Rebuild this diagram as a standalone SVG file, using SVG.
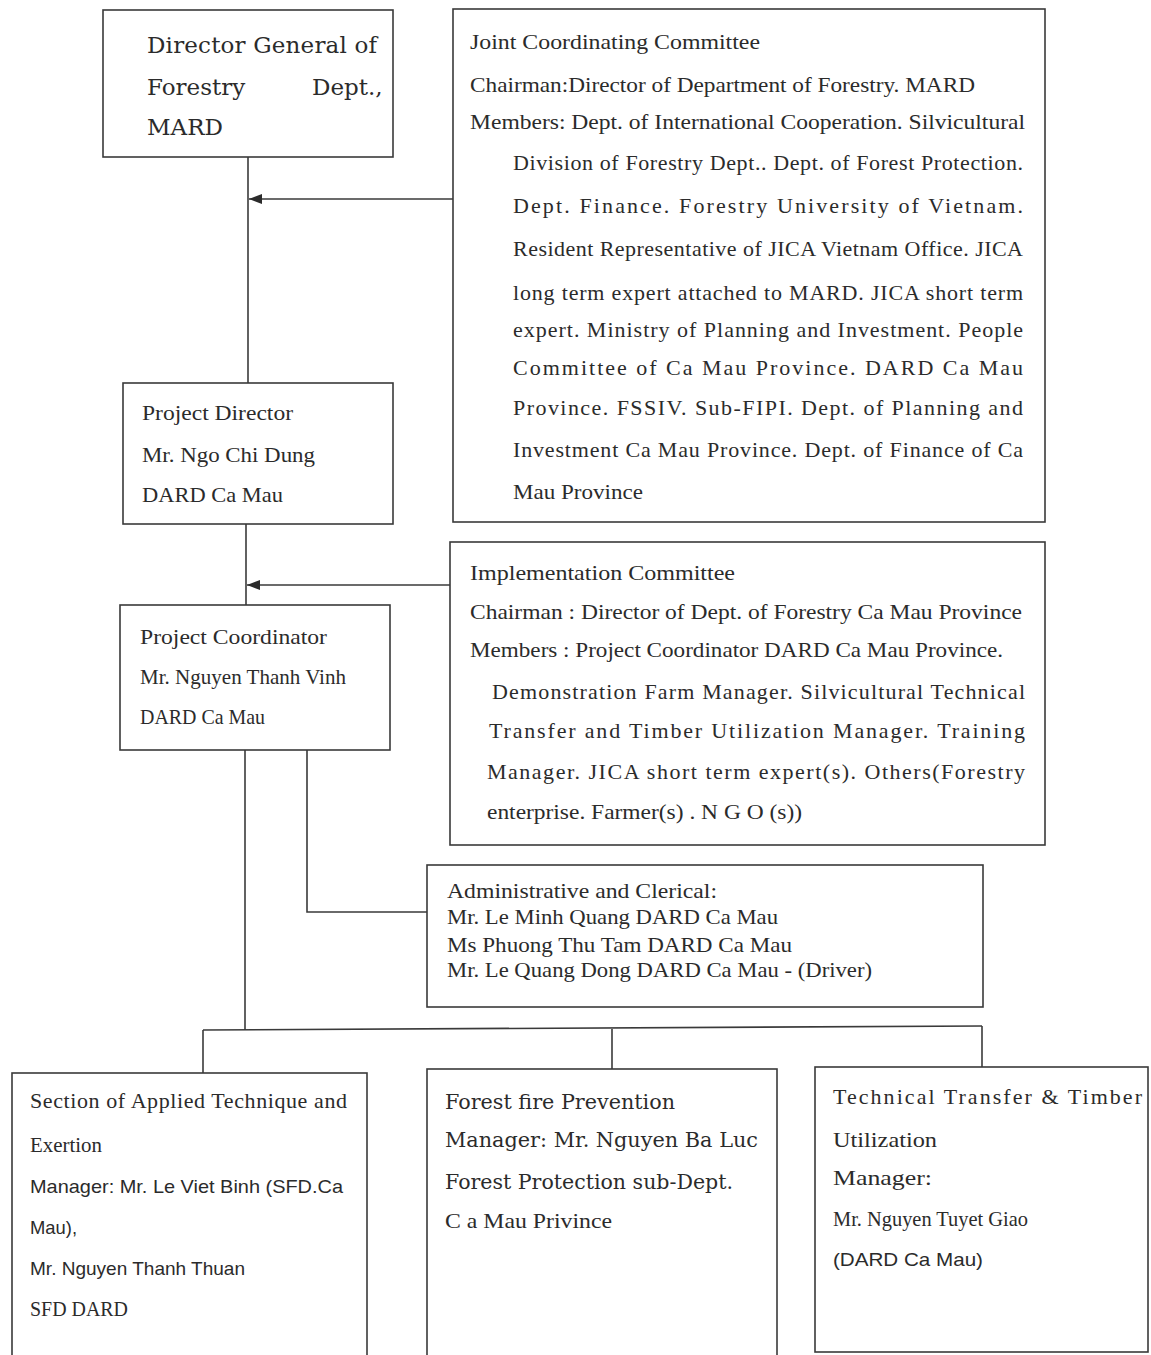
<svg xmlns="http://www.w3.org/2000/svg" width="1151" height="1355" viewBox="0 0 1151 1355">
<style>
.box{fill:#fff;stroke:#3a3a3a;stroke-width:1.6}
.conn{fill:none;stroke:#3a3a3a;stroke-width:1.6}
.t{font-family:"Liberation Serif",serif;font-size:22px;fill:#2b2b2b}
.s{font-family:"Liberation Sans",sans-serif;font-size:19px;fill:#2b2b2b}
.d{font-family:"DejaVu Serif",serif;font-size:23px;fill:#2b2b2b}
.d2{font-family:"DejaVu Serif",serif;font-size:20px;fill:#2b2b2b}
</style>
<defs>
<marker id="arr" markerUnits="userSpaceOnUse" markerWidth="14" markerHeight="10" refX="13" refY="5" orient="auto">
<path d="M0,0 L13,5 L0,10 z" fill="#2b2b2b"/>
</marker>
</defs>
<rect width="1151" height="1355" fill="#fff"/>
<g id="connectors">
<path class="conn" d="M248,157 V383"/>
<path class="conn" d="M453,199 H249" marker-end="url(#arr)"/>
<path class="conn" d="M246,524 V605"/>
<path class="conn" d="M450,585 H247" marker-end="url(#arr)"/>
<path class="conn" d="M245,750 V1030"/>
<path class="conn" d="M307,750 V912 H427"/>
<path class="conn" d="M203,1030 L982,1026"/>
<path class="conn" d="M203,1030 V1073"/>
<path class="conn" d="M612,1029 V1069"/>
<path class="conn" d="M982,1026 V1067"/>
</g>
<g id="dg">
<rect class="box" x="103" y="10" width="290" height="147"/>
<text class="d" x="147" y="53" textLength="230" lengthAdjust="spacing">Director General of</text>
<text class="d" y="95"><tspan x="147">Forestry </tspan><tspan x="312">Dept.,</tspan></text>
<text class="d" x="147" y="135">MARD</text>
</g>
<g id="jcc">
<rect class="box" x="453" y="9" width="592" height="513"/>
<text class="t" x="470" y="49" textLength="290" lengthAdjust="spacingAndGlyphs">Joint Coordinating Committee</text>
<text class="t" x="470" y="92" textLength="505" lengthAdjust="spacingAndGlyphs">Chairman:Director of Department of Forestry. MARD</text>
<text class="t" x="470" y="129" textLength="555" lengthAdjust="spacingAndGlyphs">Members: Dept. of International Cooperation. Silvicultural</text>
<text class="t" x="513" y="170" textLength="510" lengthAdjust="spacing">Division of Forestry Dept.. Dept. of Forest Protection.</text>
<text class="t" x="513" y="213" textLength="510" lengthAdjust="spacing">Dept. Finance. Forestry University of Vietnam.</text>
<text class="t" x="513" y="256" textLength="510" lengthAdjust="spacing">Resident Representative of JICA Vietnam Office. JICA</text>
<text class="t" x="513" y="300" textLength="510" lengthAdjust="spacing">long term expert attached to MARD. JICA short term</text>
<text class="t" x="513" y="337" textLength="510" lengthAdjust="spacing">expert. Ministry of Planning and Investment. People</text>
<text class="t" x="513" y="375" textLength="510" lengthAdjust="spacing">Committee of Ca Mau Province. DARD Ca Mau</text>
<text class="t" x="513" y="415" textLength="510" lengthAdjust="spacing">Province. FSSIV. Sub-FIPI. Dept. of Planning and</text>
<text class="t" x="513" y="457" textLength="510" lengthAdjust="spacing">Investment Ca Mau Province. Dept. of Finance of Ca</text>
<text class="t" x="513" y="499" textLength="130" lengthAdjust="spacingAndGlyphs">Mau Province</text>
</g>
<g id="pd">
<rect class="box" x="123" y="383" width="270" height="141"/>
<text class="t" x="142" y="420" textLength="151" lengthAdjust="spacingAndGlyphs">Project Director</text>
<text class="t" x="142" y="462" textLength="173" lengthAdjust="spacingAndGlyphs">Mr. Ngo Chi Dung</text>
<text class="t" x="142" y="502" textLength="141" lengthAdjust="spacingAndGlyphs">DARD Ca Mau</text>
</g>
<g id="ic">
<rect class="box" x="450" y="542" width="595" height="303"/>
<text class="t" x="470" y="580" textLength="265" lengthAdjust="spacingAndGlyphs">Implementation Committee</text>
<text class="t" x="470" y="619" textLength="552" lengthAdjust="spacingAndGlyphs">Chairman : Director of Dept. of Forestry Ca Mau Province</text>
<text class="t" x="470" y="657" textLength="533" lengthAdjust="spacingAndGlyphs">Members : Project Coordinator DARD Ca Mau Province.</text>
<text class="t" x="492" y="699" textLength="533" lengthAdjust="spacing">Demonstration Farm Manager. Silvicultural Technical</text>
<text class="t" x="489" y="738" textLength="536" lengthAdjust="spacing">Transfer and Timber Utilization Manager. Training</text>
<text class="t" x="487" y="779" textLength="538" lengthAdjust="spacing">Manager. JICA short term expert(s). Others(Forestry</text>
<text class="t" x="487" y="819" textLength="315" lengthAdjust="spacingAndGlyphs">enterprise. Farmer(s) . N G O (s))</text>
</g>
<g id="pc">
<rect class="box" x="120" y="605" width="270" height="145"/>
<text class="t" x="140" y="644" textLength="187" lengthAdjust="spacingAndGlyphs">Project Coordinator</text>
<text class="t" x="140" y="684" textLength="206" lengthAdjust="spacingAndGlyphs">Mr. Nguyen Thanh Vinh</text>
<text class="t" x="140" y="724" textLength="125" lengthAdjust="spacingAndGlyphs">DARD Ca Mau</text>
</g>
<g id="admin">
<rect class="box" x="427" y="865" width="556" height="142"/>
<text class="t" x="447" y="898" textLength="270" lengthAdjust="spacingAndGlyphs">Administrative and Clerical:</text>
<text class="t" x="447" y="924" textLength="331" lengthAdjust="spacingAndGlyphs">Mr. Le Minh Quang DARD Ca Mau</text>
<text class="t" x="447" y="952" textLength="345" lengthAdjust="spacingAndGlyphs">Ms Phuong Thu Tam DARD Ca Mau</text>
<text class="t" x="447" y="977" textLength="425" lengthAdjust="spacingAndGlyphs">Mr. Le Quang Dong DARD Ca Mau - (Driver)</text>
</g>
<g id="section">
<rect class="box" x="12" y="1073" width="355" height="295"/>
<text class="t" x="30" y="1108" font-size="19" textLength="317" lengthAdjust="spacing">Section of Applied Technique and</text>
<text class="t" x="30" y="1152" font-size="19" textLength="72" lengthAdjust="spacingAndGlyphs">Exertion</text>
<text class="s" x="30" y="1193" textLength="313" lengthAdjust="spacingAndGlyphs">Manager: Mr. Le Viet Binh (SFD.Ca</text>
<text class="s" x="30" y="1234" textLength="47" lengthAdjust="spacingAndGlyphs">Mau),</text>
<text class="s" x="30" y="1275" textLength="215" lengthAdjust="spacingAndGlyphs">Mr. Nguyen Thanh Thuan</text>
<text class="t" x="30" y="1316" font-size="19" textLength="98" lengthAdjust="spacingAndGlyphs">SFD DARD</text>
</g>
<g id="fire">
<rect class="box" x="427" y="1069" width="350" height="295"/>
<text class="d2" x="445" y="1109" textLength="230" lengthAdjust="spacingAndGlyphs">Forest fire Prevention</text>
<text class="d2" x="445" y="1147" textLength="313" lengthAdjust="spacingAndGlyphs">Manager: Mr. Nguyen Ba Luc</text>
<text class="d2" x="445" y="1189" textLength="288" lengthAdjust="spacingAndGlyphs">Forest Protection sub-Dept.</text>
<text class="t" x="445" y="1228" font-size="18" textLength="167" lengthAdjust="spacingAndGlyphs">C a Mau Privince</text>
</g>
<g id="tech">
<rect class="box" x="815" y="1067" width="333" height="285"/>
<text class="t" x="833" y="1104" font-size="19" textLength="309" lengthAdjust="spacing">Technical Transfer &amp; Timber</text>
<text class="t" x="833" y="1147" font-size="19" textLength="104" lengthAdjust="spacingAndGlyphs">Utilization</text>
<text class="t" x="833" y="1185" font-size="19" textLength="99" lengthAdjust="spacingAndGlyphs">Manager:</text>
<text class="t" x="833" y="1226" font-size="17" textLength="195" lengthAdjust="spacingAndGlyphs">Mr. Nguyen Tuyet Giao</text>
<text class="s" x="833" y="1266" font-size="18" textLength="150" lengthAdjust="spacingAndGlyphs">(DARD Ca Mau)</text>
</g>
</svg>
